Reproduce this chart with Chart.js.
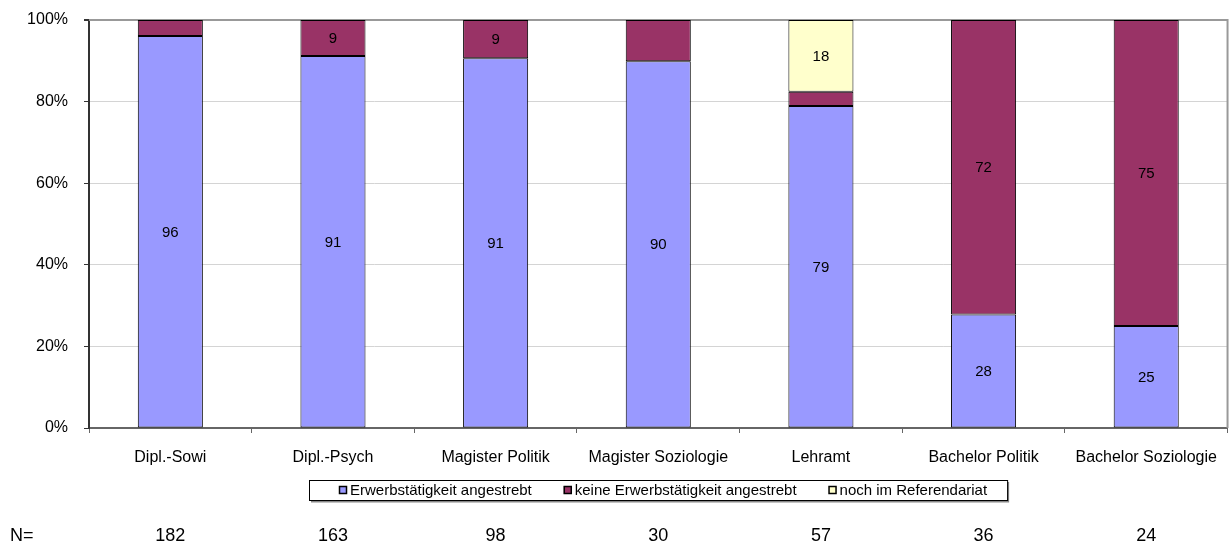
<!DOCTYPE html>
<html>
<head>
<meta charset="utf-8">
<script src="https://cdn.jsdelivr.net/npm/chart.js@4"></script>
<style>
  html, body { margin: 0; padding: 0; background: #fff; }
  #chart { display: block; }
</style>
</head>
<body>
<canvas id="chart" width="1232" height="543"></canvas>
<script>
const categories = [
  "Dipl.-Sowi",
  "Dipl.-Psych",
  "Magister Politik",
  "Magister Soziologie",
  "Lehramt",
  "Bachelor Politik",
  "Bachelor Soziologie",
];
const seriesNames = [
  "Erwerbstätigkeit angestrebt",
  "keine Erwerbstätigkeit angestrebt",
  "noch im Referendariat",
];
// shares in percent
const erwerbValues = [96.1, 91.2, 90.6, 89.9, 78.9, 27.8, 25.0];
const keineValues = [3.9, 8.8, 9.4, 10.1, 3.5, 72.2, 75.0];
const referendariatValues = [null, null, null, null, 17.6, null, null];
// the numbers printed inside the bars (empty = not shown)
const erwerbLabels = ["96", "91", "91", "90", "79", "28", "25"];
const keineLabels = ["", "9", "9", "", "", "72", "75"];
const referendariatLabels = ["", "", "", "", "18", "", ""];
const nValues = [182, 163, 98, 30, 57, 36, 24];
const yTickStep = 20;

const fontFamily = "'Liberation Sans', Arial, sans-serif";
Chart.defaults.font.family = fontFamily;
Chart.defaults.color = "#000";

const barLabels = [erwerbLabels, keineLabels, referendariatLabels];

// numbers inside the segments
const barValuePlugin = {
  id: "barValues",
  afterDatasetsDraw(chart) {
    let ctx = chart.ctx;
    ctx.save();
    ctx.font = "15px " + fontFamily;
    ctx.fillStyle = "#000";
    ctx.textAlign = "center";
    ctx.textBaseline = "middle";
    chart.data.datasets.forEach((ds, i) => {
      let meta = chart.getDatasetMeta(i);
      meta.data.forEach((bar, j) => {
        let txt = barLabels[i][j];
        if (!txt) return;
        let p = bar.getCenterPoint();
        ctx.fillText(txt, p.x, p.y + 1);
      });
    });
    ctx.restore();
  },
};

// plot frame, framed legend, N= row
const extrasPlugin = {
  id: "extras",
  beforeDatasetsDraw(chart) {
    let ctx = chart.ctx;
    let a = chart.chartArea;
    ctx.save();
    ctx.strokeStyle = "#999";
    ctx.lineWidth = 2;
    ctx.beginPath();
    ctx.moveTo(a.left, a.top);
    ctx.lineTo(a.right, a.top);
    ctx.lineTo(a.right, a.bottom);
    ctx.stroke();
    ctx.restore();
  },
  afterDraw(chart) {
    let ctx = chart.ctx;
    let a = chart.chartArea;

    // legend
    ctx.save();
    ctx.font = "15px " + fontFamily;
    let box = 8, gap = 3, itemGap = 32;
    let widths = chart.data.datasets.map((ds) => ctx.measureText(ds.label).width);
    let total = widths.reduce((s, w) => s + box + gap + w, 0) + itemGap * (widths.length - 1);
    let startX = Math.round((a.left + a.right) / 2 + 5 - total / 2);
    let midY = 490;
    let left = startX - 30, right = startX + total + 20;
    ctx.strokeStyle = "#888";
    ctx.lineWidth = 2;
    ctx.beginPath();
    ctx.moveTo(left + 2, 501.5);
    ctx.lineTo(right + 1, 501.5);
    ctx.lineTo(right + 1, 482);
    ctx.stroke();
    ctx.strokeStyle = "#000";
    ctx.lineWidth = 1;
    ctx.strokeRect(left + 0.5, 480.5, right - left, 20);
    ctx.textAlign = "left";
    ctx.textBaseline = "middle";
    let x = startX;
    chart.data.datasets.forEach((ds, i) => {
      ctx.fillStyle = ds.backgroundColor;
      ctx.fillRect(x, midY - 4, box, box);
      ctx.strokeStyle = "#000";
      ctx.lineWidth = 1.5;
      ctx.strokeRect(x + 0.5, midY - 3.5, box - 1, box - 1);
      ctx.fillStyle = "#000";
      ctx.fillText(ds.label, x + box + gap, midY + 1);
      x += box + gap + widths[i] + itemGap;
    });
    ctx.restore();

    // N= row
    let xs = chart.scales.x;
    ctx.save();
    ctx.font = "18px " + fontFamily;
    ctx.fillStyle = "#000";
    ctx.textBaseline = "alphabetic";
    ctx.textAlign = "left";
    ctx.fillText("N=", 10, 541);
    ctx.textAlign = "center";
    nValues.forEach((n, i) => {
      ctx.fillText(String(n), xs.getPixelForValue(i), 541);
    });
    ctx.restore();
  },
};

new Chart(document.getElementById("chart"), {
  type: "bar",
  data: {
    labels: categories,
    datasets: [
      {
        label: seriesNames[0],
        data: erwerbValues,
        backgroundColor: "#9999FF",
        borderColor: "#000",
        borderWidth: 1,
        borderSkipped: false,
      },
      {
        label: seriesNames[1],
        data: keineValues,
        backgroundColor: "#993366",
        borderColor: "#000",
        borderWidth: 1,
        borderSkipped: false,
      },
      {
        label: seriesNames[2],
        data: referendariatValues,
        backgroundColor: "#FFFFCC",
        borderColor: "#000",
        borderWidth: 1,
        borderSkipped: false,
      },
    ],
  },
  options: {
    responsive: false,
    animation: false,
    devicePixelRatio: 1,
    categoryPercentage: 1,
    barPercentage: 0.4,
    layout: { padding: { top: 20, right: 1, bottom: 70, left: 0 } },
    plugins: {
      tooltip: { enabled: false },
      legend: { display: false },
    },
    scales: {
      x: {
        stacked: true,
        grid: {
          drawOnChartArea: false,
          drawTicks: true,
          tickLength: 5,
          tickColor: "#666",
        },
        border: { color: "#666", width: 2 },
        ticks: { font: { size: 16 }, padding: 15, maxRotation: 0, color: "#000" },
        afterFit: (s) => { s.height = 45; },
      },
      y: {
        stacked: true,
        min: 0,
        max: 100,
        grid: {
          color: (c) => (c.tick && c.tick.value === 100 ? "#999" : "#d4d4d4"),
          lineWidth: (c) => (c.tick && c.tick.value === 100 ? 2 : 1),
          tickLength: 5,
          tickColor: "#333",
        },
        border: { color: "#333", width: 2 },
        ticks: {
          stepSize: yTickStep,
          padding: 16,
          font: { size: 16 },
          color: "#000",
          callback: (v) => v + "%",
        },
        afterFit: (s) => {
          s.width = 89;
          s.paddingTop = 0;
          s.paddingBottom = 0;
        },
      },
    },
  },
  plugins: [barValuePlugin, extrasPlugin],
});
</script>
</body>
</html>
